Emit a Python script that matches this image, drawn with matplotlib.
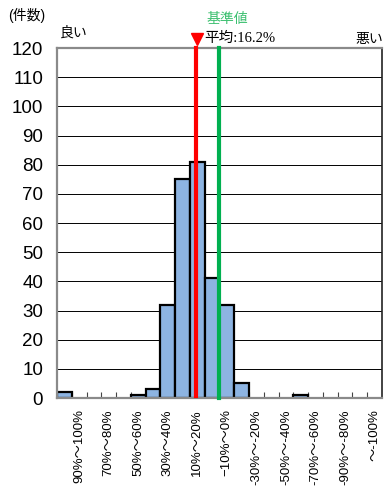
import numpy as np
import matplotlib
matplotlib.use("Agg")
import matplotlib.pyplot as plt
import matplotlib.transforms as mtransforms

# bins run from "100% and above" down to "below -100%", 10% wide each
categories = ["100%〜", "90%〜100%", "80%〜90%", "70%〜80%", "60%〜70%",
              "50%〜60%", "40%〜50%", "30%〜40%", "20%〜30%", "10%〜20%",
              "0%〜10%", "−10%〜0%", "-20%〜-10%", "-30%〜-20%", "-40%〜-30%",
              "-50%〜-40%", "-60%〜-50%", "-70%〜-60%", "-80%〜-70%",
              "-90%〜-80%", "-100%〜-90%", "〜-100%"]
counts = [2, 0, 0, 0, 0, 1, 3, 32, 75, 81, 41, 32, 5, 0, 0, 0, 1, 0, 0, 0, 0, 0]
yticks = [0, 10, 20, 30, 40, 50, 60, 70, 80, 90, 100, 110, 120]

mean_pct = 16.2
base_pct = 0.0

def pct_to_x(pct):
    # bin edge i sits at 110 - 10*i percent
    return (110.0 - pct) / 10.0

JP = ['Liberation Sans', 'Noto Sans CJK JP']
JP_SERIF = ['Liberation Serif', 'Noto Sans CJK JP']

fig = plt.figure(figsize=(3.85, 4.86), dpi=100)
ax = fig.add_axes((0.148, 0.181, 0.844, 0.720))

n = len(categories)
xs = np.arange(n) + 0.5
vals = np.array(counts)
mask = vals > 0
ax.bar(xs[mask], vals[mask], width=1.0, color='#8db4e2', edgecolor='black',
       linewidth=1.6, zorder=2)

ax.set_xlim(0, n)
ax.set_ylim(0, 120)
ax.set_yticks(yticks)
ax.yaxis.grid(True, color='black', linewidth=0.7)
ax.set_axisbelow(True)
ax.tick_params(axis='y', length=0, pad=10, labelsize=13.5)
for lab in ax.get_yticklabels():
    lab.set_family('Liberation Sans')

# tick marks on every bin edge, labels on every other bin
ax.set_xticks(np.arange(1, n), minor=True)
ax.set_xticks(xs[1::2])
ax.set_xticklabels(categories[1::2], rotation=90, fontsize=9.5, family=JP,
                   va='top', ha='center')
ax.tick_params(axis='x', which='major', length=0, pad=8)
ax.tick_params(axis='x', which='minor', direction='in', length=4,
               width=0.8, color='#444444')

for side in ['left', 'top', 'bottom']:
    ax.spines[side].set_color('#8a8a8a')
    ax.spines[side].set_linewidth(1.6)
ax.spines['right'].set_color('#222222')
ax.spines['right'].set_linewidth(1.2)

# mean and reference lines
ax.plot([pct_to_x(mean_pct)] * 2, [0.8, 120], color='red', linewidth=3, zorder=3,
        clip_on=False)
ax.plot([pct_to_x(base_pct)] * 2, [0, 120], color='#00b050', linewidth=3, zorder=3,
        clip_on=False)

trans = mtransforms.blended_transform_factory(ax.transData, ax.transAxes)
ax.plot([pct_to_x(mean_pct) + 0.1], [1.027], marker='v', color='red',
        markersize=8.5, transform=trans, clip_on=False)
ax.annotate('平均:16.2%', xy=(pct_to_x(mean_pct) + 0.1, 1.027), xycoords=trans,
            xytext=(5, 0), textcoords='offset points', ha='left', va='center',
            fontsize=10.5, family=JP_SERIF)
ax.annotate('基準値', xy=(pct_to_x(base_pct), 1.082), xycoords=trans,
            xytext=(6, 0), textcoords='offset points', ha='center', va='center',
            fontsize=10, family=JP, color='#3cc070')

ax.text(0.01, 1.045, '良い', transform=ax.transAxes, ha='left', va='center',
        fontsize=10, family=JP)
ax.text(0.917, 1.027, '悪い', transform=ax.transAxes, ha='left', va='center',
        fontsize=10, family=JP)
fig.text(0.02, 0.969, '(件数)', ha='left', va='center', fontsize=10, family=JP)

fig.savefig('out.png', dpi=100)
